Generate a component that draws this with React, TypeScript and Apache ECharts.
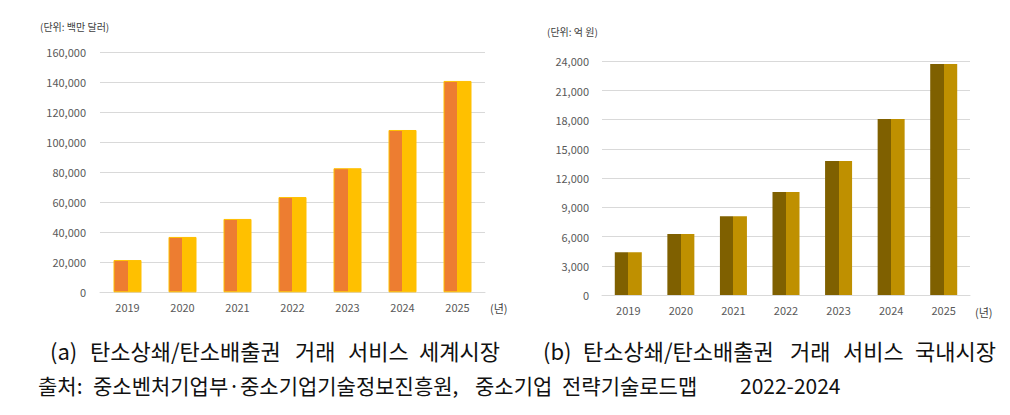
import React, { useEffect, useRef } from "react";
import * as echarts from "echarts";

const years = ["2019", "2020", "2021", "2022", "2023", "2024", "2025"];
const worldMarket = [21500, 36900, 48900, 63500, 82700, 108200, 140900];
const domesticMarket = [4400, 6260, 8100, 10570, 13760, 18070, 23720];
const worldTicks = { min: 0, max: 160000, interval: 20000 };
const domesticTicks = { min: 0, max: 24000, interval: 3000 };

const unitWorld = "(단위: 백만 달러)";
const unitDomestic = "(단위: 억 원)";
const yearUnit = "(년)";
const captionAWords = ["(a)", "탄소상쇄/탄소배출권", "거래", "서비스", "세계시장"];
const captionBWords = ["(b)", "탄소상쇄/탄소배출권", "거래", "서비스", "국내시장"];
const sourceWords = ["출처:", "중소벤처기업부·중소기업기술정보진흥원,", "중소기업", "전략기술로드맵", "2022-2024"];

const captionAX = [50, 90, 295, 348, 419];
const captionBX = [543, 583, 790, 843, 915];
const sourceX = [38, 93, 475, 562, 740];

const FONT = '"Noto Sans CJK KR", "Noto Sans", sans-serif';

function split(c1: string, c2: string) {
  return {
    type: "linear",
    x: 0,
    y: 0,
    x2: 1,
    y2: 0,
    colorStops: [
      { offset: 0, color: c1 },
      { offset: 0.5, color: c1 },
      { offset: 0.5, color: c2 },
      { offset: 1, color: c2 },
    ],
  };
}

function words(list: string[], xs: number[], y: number, size: number) {
  return list.map((w, i) => ({
    type: "text",
    x: xs[i],
    y,
    style: {
      text: w,
      fontSize: size,
      fill: "#111",
      fontFamily: FONT,
      verticalAlign: "middle",
      align: "left",
    },
  }));
}

export default function App() {
  const ref = useRef<HTMLDivElement>(null);
  useEffect(() => {
    const chart = echarts.init(ref.current!, null, { renderer: "svg" });
    const axisLabel = { color: "#595959", fontSize: 11, fontFamily: FONT };
    const xAxisCommon = {
      type: "category",
      data: years,
      axisLine: { show: true, lineStyle: { color: "#D9D9D9", width: 1 } },
      axisTick: { show: false },
      axisLabel: { ...axisLabel, margin: 9 },
    };
    const yAxisCommon = {
      type: "value",
      axisLine: { show: false },
      axisTick: { show: false },
      splitLine: { lineStyle: { color: "#D9D9D9", width: 1 } },
      axisLabel: {
        ...axisLabel,
        formatter: (v: number) => v.toLocaleString("en-US"),
      },
    };
    chart.setOption({
      animation: false,
      textStyle: { fontFamily: FONT },
      grid: [
        { left: 100, right: 525, top: 52.3, bottom: 122.7 },
        { left: 602, right: 40, top: 61.3, bottom: 120 },
      ],
      xAxis: [
        { ...xAxisCommon, gridIndex: 0 },
        { ...xAxisCommon, gridIndex: 1 },
      ],
      yAxis: [
        { ...yAxisCommon, gridIndex: 0, ...worldTicks, axisLabel: { ...yAxisCommon.axisLabel, margin: 14 } },
        { ...yAxisCommon, gridIndex: 1, ...domesticTicks, axisLabel: { ...yAxisCommon.axisLabel, margin: 13 } },
      ],
      series: [
        {
          type: "bar",
          xAxisIndex: 0,
          yAxisIndex: 0,
          data: worldMarket,
          barWidth: 28,
          itemStyle: {
            color: split("#ED7D31", "#FFC000"),
            borderColor: "#FFC000",
            borderWidth: 1,
          },
        },
        {
          type: "bar",
          xAxisIndex: 1,
          yAxisIndex: 1,
          data: domesticMarket,
          barWidth: 27,
          itemStyle: { color: split("#7F6000", "#BF9000") },
        },
      ],
      graphic: [
        { type: "text", left: 40, top: 21, style: { text: unitWorld, fontSize: 10, fill: "#404040", fontFamily: FONT } },
        { type: "text", left: 547, top: 26, style: { text: unitDomestic, fontSize: 10, fill: "#404040", fontFamily: FONT } },
        { type: "text", left: 490, top: 302, style: { text: yearUnit, fontSize: 11, fill: "#404040", fontFamily: FONT } },
        { type: "text", left: 975, top: 306, style: { text: yearUnit, fontSize: 11, fill: "#404040", fontFamily: FONT } },
        ...words(captionAWords, captionAX, 350, 22),
        ...words(captionBWords, captionBX, 350, 22),
        ...words(sourceWords, sourceX, 385, 21),
      ],
    });
    return () => chart.dispose();
  }, []);
  return (
    <div
      ref={ref}
      style={{ position: "fixed", left: 0, top: 0, width: 1010, height: 415, background: "#fff" }}
    />
  );
}
